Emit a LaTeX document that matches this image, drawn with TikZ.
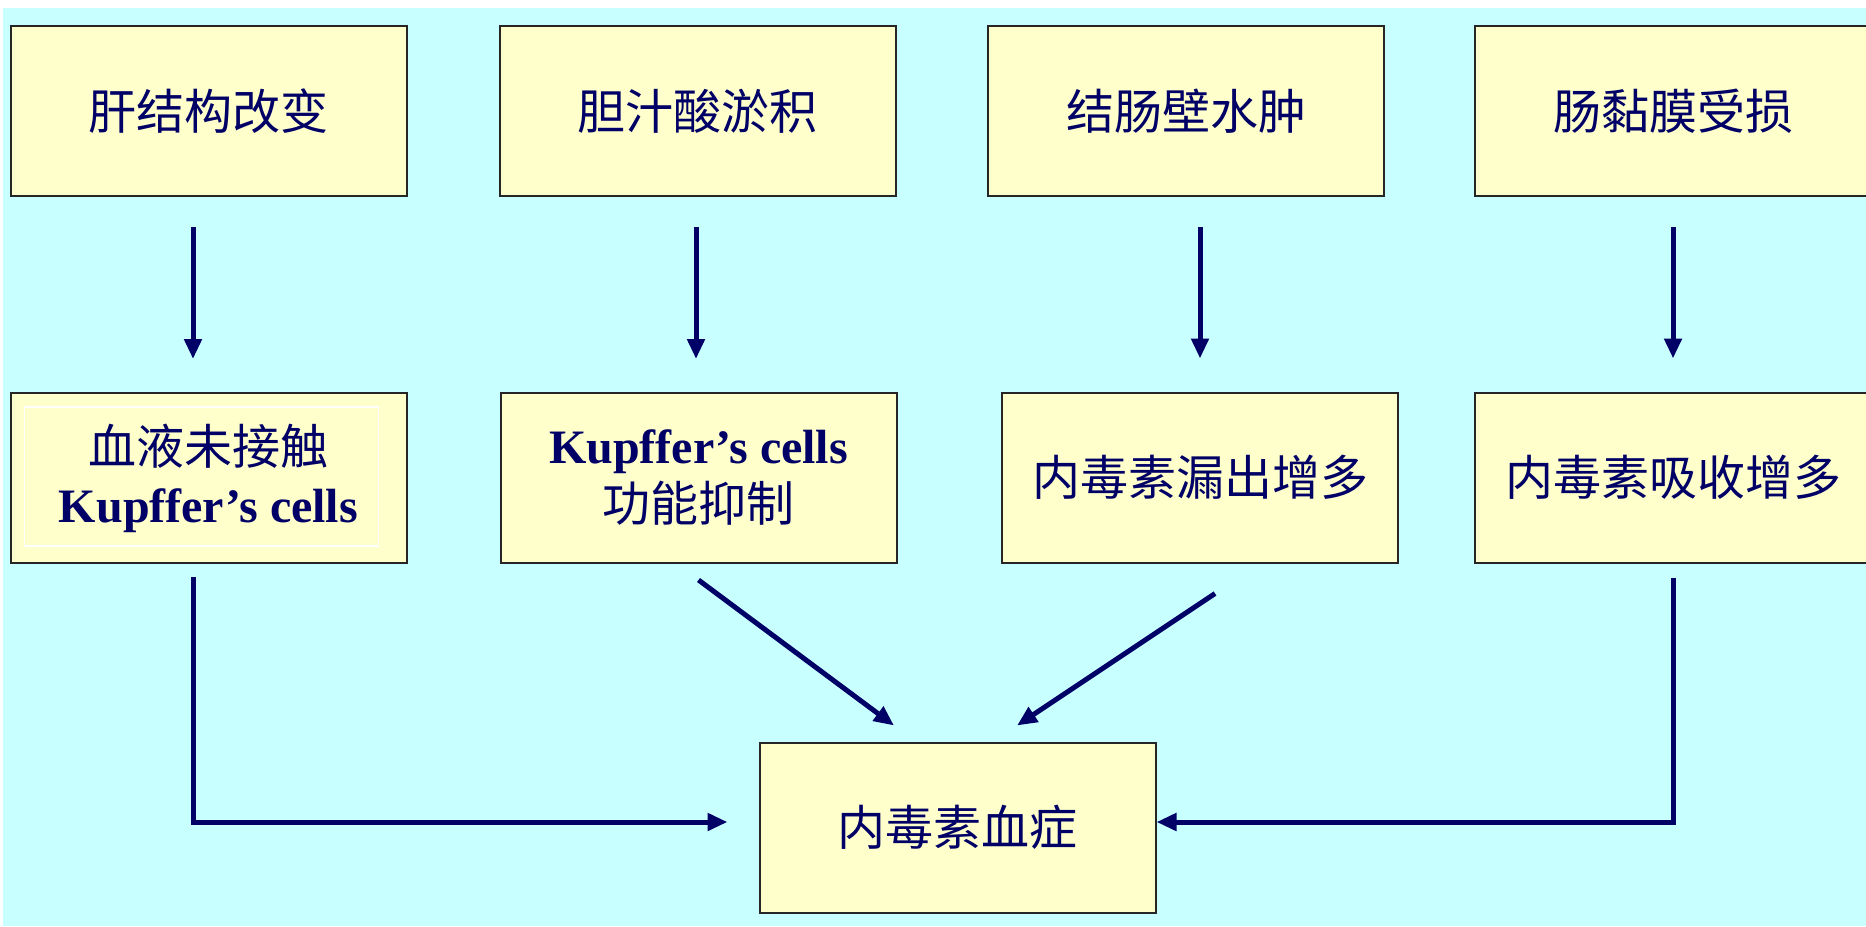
\documentclass[tikz,border=0pt]{standalone}
\usepackage{fontspec}
\setmainfont{Liberation Serif}
\newfontfamily\cjk{Noto Sans CJK SC}
\newfontfamily\latin{Liberation Serif}
\usetikzlibrary{arrows.meta}
\definecolor{bgcyan}{HTML}{C8FFFF}
\definecolor{boxfill}{HTML}{FFFFCC}
\definecolor{navy}{HTML}{000066}
\begin{document}
\begin{tikzpicture}[x=0.5pt,y=-0.5pt,
  box/.style={draw=black!85, line width=1pt, fill=boxfill,
    minimum width=198pt, minimum height=85pt, inner sep=0pt,
    align=center, text=navy, font=\fontsize{24pt}{29pt}\selectfont\cjk},
  arr/.style={draw=navy, line width=2.5pt, line join=miter,
    -{Triangle[length=10pt,width=8.5pt]}},
  kc/.style={}]
\useasboundingbox (0,0) rectangle (1866,926);
\fill[white] (0,0) rectangle (1866,926);
\fill[bgcyan] (3,8) rectangle (1866,926);

% causes
\node[box] (top1) at (208.5,111) {肝结构改变};
\node[box] (top2) at (697.5,111) {胆汁酸淤积};
\node[box] (top3) at (1186,111) {结肠壁水肿};
\node[box] (top4) at (1673,111) {肠黏膜受损};

% intermediate effects
\node[box] (mid1) at (208.5,478) {血液未接触\\{\latin\bfseries Kupffer’s cells}};
\draw[white, line width=0.6pt]
  ([xshift=7.5pt,yshift=-7.5pt]mid1.north west) rectangle ([xshift=-14.5pt,yshift=9pt]mid1.south east);
\node[box] (mid2) at (698.5,478) {{\latin\bfseries Kupffer’s cells}\\功能抑制};
\node[box] (mid3) at (1200,477.5) {内毒素漏出增多};
\node[box] (mid4) at (1673,477.5) {内毒素吸收增多};

% result
\node[box] (bot) at (957.5,827.5) {内毒素血症};

% top row to middle row
\draw[arr] ([xshift=-7.75pt,yshift=-15pt]top1.south) -- ([xshift=-7.75pt,yshift=16.5pt]mid1.north);
\draw[arr] ([xshift=-0.75pt,yshift=-15pt]top2.south) -- ([xshift=-1.25pt,yshift=16.5pt]mid2.north);
\draw[arr] ([xshift=7pt,yshift=-15pt]top3.south) -- ([yshift=16.5pt]mid3.north);
\draw[arr] ([yshift=-15pt]top4.south) -- ([yshift=16.5pt]mid4.north);

% middle row to result
\draw[arr] ([xshift=-7.75pt,yshift=-6.5pt]mid1.south) |- ([xshift=-15.5pt,yshift=2.75pt]bot.west);
\draw[arr] ([yshift=-8pt]mid2.south) -- ([xshift=-31.75pt,yshift=8pt]bot.north);
\draw[arr] ([xshift=7.5pt,yshift=-15pt]mid3.south) -- ([xshift=29.75pt,yshift=8pt]bot.north);
\draw[arr] ([yshift=-7pt]mid4.south) |- ([yshift=2.75pt]bot.east);
\end{tikzpicture}
\end{document}
